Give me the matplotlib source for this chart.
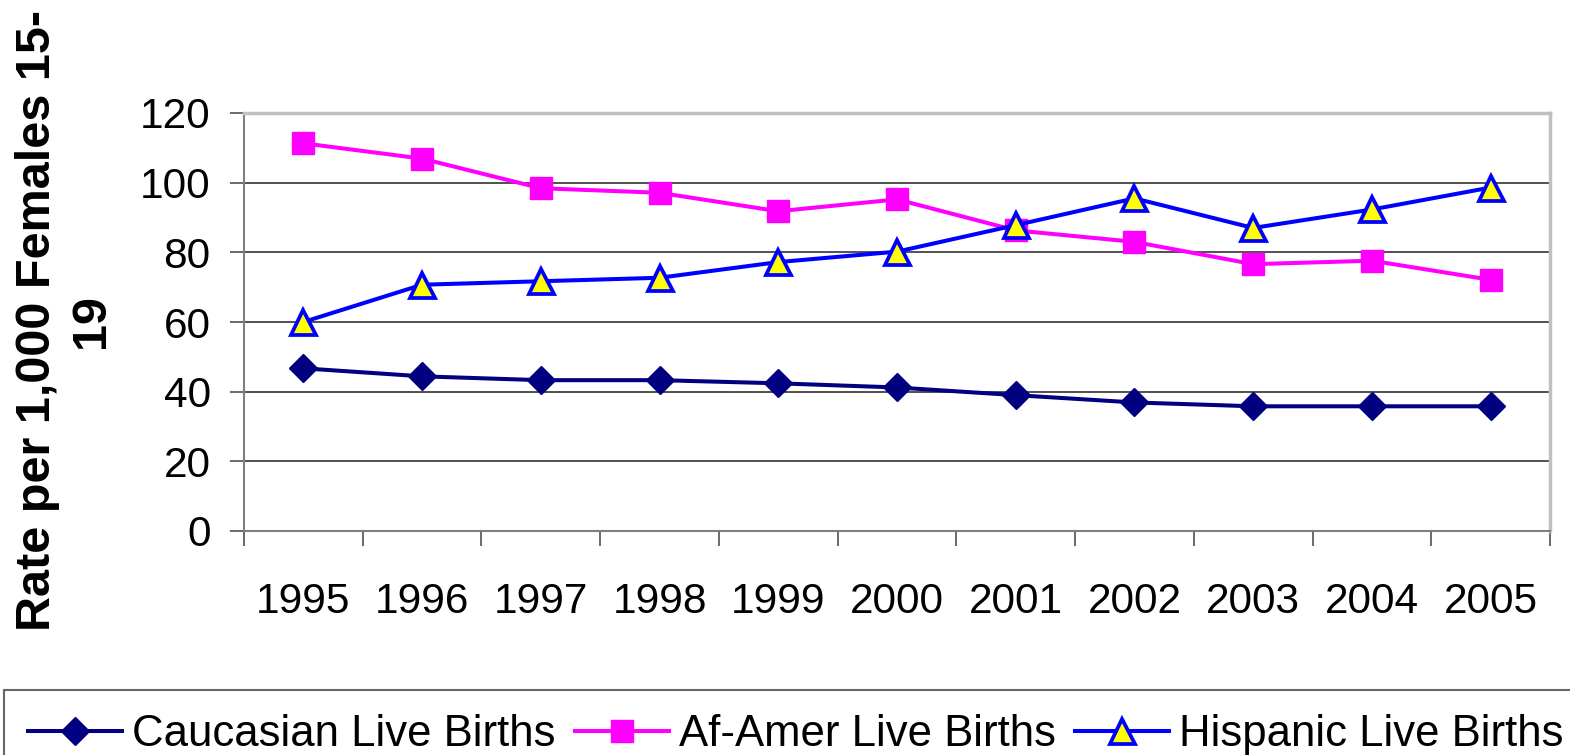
import matplotlib
matplotlib.use("Agg")
import matplotlib.pyplot as plt
from matplotlib.ticker import FixedLocator, NullFormatter

years = ['1995', '1996', '1997', '1998', '1999', '2000', '2001', '2002', '2003', '2004', '2005']
caucasian = [46.7, 44.4, 43.3, 43.3, 42.4, 41.2, 39.0, 36.9, 35.8, 35.8, 35.8]
af_amer = [111.3, 106.9, 98.4, 97.1, 91.8, 95.2, 86.3, 83.0, 76.6, 77.6, 72.1]
hispanic = [60.0, 70.7, 71.7, 72.7, 77.2, 80.2, 87.8, 95.5, 87.0, 92.3, 98.6]
y_ticks = [0, 20, 40, 60, 80, 100, 120]

# no condensed Arial around, so plain Liberation Sans sized to the label widths
font = ['Liberation Sans', 'DejaVu Sans']

fig = plt.figure(figsize=(15.7, 7.55), dpi=100)
ax = fig.add_axes([244 / 1570, 1 - 531 / 755, (1550 - 244) / 1570, (531 - 113) / 755])

x = list(range(len(years)))
ax.plot(x, caucasian, color='#000080', lw=2.9, marker='D', ms=14,
        mfc='#000080', mec='#000080', label='Caucasian Live Births', zorder=3)
ax.plot(x, af_amer, color='#ff00ff', lw=2.9, marker='s', ms=16.5,
        mfc='#ff00ff', mec='#ff00ff', label='Af-Amer Live Births', zorder=3)
ax.plot(x, hispanic, color='#0000ff', lw=2.9, marker='^', ms=18,
        mfc='#ffff00', mec='#0000ff', mew=2.7, label='Hispanic Live Births', zorder=4)

ax.set_xlim(-0.5, len(years) - 0.5)
ax.set_ylim(0, 120)

ax.set_xticks(x)
ax.set_xticklabels(years)
ax.xaxis.set_minor_locator(FixedLocator([i - 0.5 for i in range(len(years) + 1)]))
ax.xaxis.set_minor_formatter(NullFormatter())
ax.tick_params(axis='x', which='major', length=0, pad=37)
ax.tick_params(axis='x', which='minor', length=11, width=1.2, color='#505050', direction='out')
ax.set_yticks(y_ticks)
ax.tick_params(axis='y', length=10, width=1.2, color='#505050', pad=14)
for lab in ax.get_xticklabels() + ax.get_yticklabels():
    lab.set_fontfamily(font)
    lab.set_fontsize(30.5)

ax.yaxis.grid(True, color='#202020', lw=1.1)
ax.spines['top'].set_color('#c0c0c0')
ax.spines['top'].set_linewidth(2.5)
ax.spines['right'].set_color('#c0c0c0')
ax.spines['right'].set_linewidth(2.5)
ax.spines['left'].set_color('#808080')
ax.spines['left'].set_linewidth(1.5)
ax.spines['bottom'].set_color('#808080')
ax.spines['bottom'].set_linewidth(1.5)

fig.text(0.041, 0.575, 'Rate per 1,000 Females 15-\n19', rotation=90,
         fontsize=35, fontweight='bold', family=font,
         ha='center', va='center', multialignment='center', linespacing=1.25)

leg = fig.legend(loc='upper left', bbox_to_anchor=(4 / 1570, 1 - 690 / 755),
                 ncol=3, frameon=True, fancybox=False, borderaxespad=0,
                 prop={'family': font, 'size': 31.5},
                 handlelength=2.15, handletextpad=0.22, columnspacing=0.45,
                 borderpad=0.55)
leg.get_frame().set_edgecolor('#404040')
leg.get_frame().set_linewidth(1.5)

fig.savefig('out.png', dpi=100)
